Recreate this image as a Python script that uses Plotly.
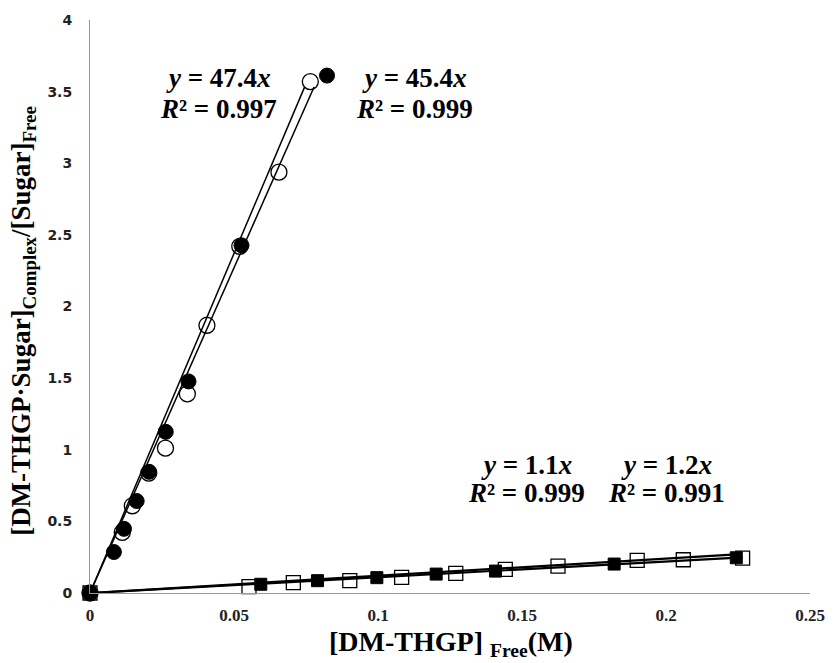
import plotly.graph_objects as go

# ---- data ----
open_circle_x = [0.0, 0.0112, 0.0147, 0.0204, 0.0262, 0.0338, 0.0406, 0.0520, 0.0656, 0.0765]
open_circle_y = [0.0, 0.423, 0.609, 0.837, 1.011, 1.390, 1.869, 2.420, 2.938, 3.570]
filled_circle_x = [0.0, 0.0083, 0.0118, 0.0162, 0.0205, 0.0263, 0.0342, 0.0526, 0.0823]
filled_circle_y = [0.0, 0.286, 0.448, 0.642, 0.846, 1.125, 1.477, 2.427, 3.612]
open_square_x = [0.0, 0.0552, 0.0706, 0.0902, 0.1082, 0.1270, 0.1442, 0.1625, 0.1900, 0.2060, 0.2266]
open_square_y = [0.0, 0.044, 0.072, 0.086, 0.109, 0.137, 0.165, 0.188, 0.228, 0.232, 0.244]
filled_square_x = [0.0, 0.0593, 0.0790, 0.0996, 0.1202, 0.1408, 0.1820, 0.2244]
filled_square_y = [0.0, 0.061, 0.086, 0.107, 0.132, 0.153, 0.202, 0.246]

fit_slopes = [47.4, 45.4, 1.1, 1.2]
fit_r2 = ["0.997", "0.999", "0.999", "0.991"]
fit_x_end = [0.0745, 0.0778, 0.2266, 0.2244]

x_ticks = [0, 0.05, 0.1, 0.15, 0.2, 0.25]
x_tick_labels = ["0", "0.05", "0.1", "0.15", "0.2", "0.25"]
y_ticks = [0, 0.5, 1, 1.5, 2, 2.5, 3, 3.5, 4]
y_tick_labels = ["0", "0.5", "1", "1.5", "2", "2.5", "3", "3.5", "4"]

# label anchor positions (data coords)
label_x = [0.0446, 0.1126, 0.1514, 0.2002]
label_y_eq = [3.598, 3.598, 0.893, 0.893]
label_y_r2 = [3.382, 3.382, 0.697, 0.697]

SERIF = "Liberation Serif, Times New Roman, serif"

fig = go.Figure()

# markers
fig.add_trace(go.Scatter(x=open_circle_x, y=open_circle_y, mode="markers",
                         marker=dict(symbol="circle", size=16, color="white",
                                     line=dict(color="black", width=1.3)),
                         cliponaxis=False, showlegend=False))
fig.add_trace(go.Scatter(x=open_square_x, y=open_square_y, mode="markers",
                         marker=dict(symbol="square", size=14, color="white",
                                     line=dict(color="black", width=1.3)),
                         cliponaxis=False, showlegend=False))
fig.add_trace(go.Scatter(x=filled_circle_x, y=filled_circle_y, mode="markers",
                         marker=dict(symbol="circle", size=15, color="black",
                                     line=dict(color="black", width=1)),
                         cliponaxis=False, showlegend=False))
fig.add_trace(go.Scatter(x=filled_square_x, y=filled_square_y, mode="markers",
                         marker=dict(symbol="square", size=12, color="black",
                                     line=dict(color="black", width=1)),
                         cliponaxis=False, showlegend=False))

# trend lines
line_widths = [1.5, 1.5, 2.2, 2.2]
for s, xe, lw in zip(fit_slopes, fit_x_end, line_widths):
    fig.add_trace(go.Scatter(x=[0, xe], y=[0, s * xe], mode="lines",
                             line=dict(color="black", width=lw),
                             cliponaxis=False, showlegend=False, hoverinfo="skip"))

# equation labels
for s, r2, lx, ye, yr in zip(fit_slopes, fit_r2, label_x, label_y_eq, label_y_r2):
    fig.add_annotation(x=lx, y=ye, xref="x", yref="y", showarrow=False,
                       text=f"<i>y</i> = {s}<i>x</i>",
                       font=dict(family=SERIF, size=27, color="black", weight="bold"))
    fig.add_annotation(x=lx, y=yr, xref="x", yref="y", showarrow=False,
                       text=f"<i>R</i>² = {r2}",
                       font=dict(family=SERIF, size=27, color="black", weight="bold"))

# axis titles as annotations
fig.add_annotation(x=0.501, y=-0.088, xref="paper", yref="paper", showarrow=False,
                   xanchor="center", yanchor="middle",
                   text="[DM-THGP] <sub>Free</sub>(M)",
                   font=dict(family=SERIF, size=28, color="black", weight="bold"))
fig.add_annotation(x=-0.093, y=0.475, xref="paper", yref="paper", showarrow=False,
                   xanchor="center", yanchor="middle", textangle=-90,
                   text="[DM-THGP·Sugar]<sub>Complex</sub>/[Sugar]<sub>Free</sub>",
                   font=dict(family=SERIF, size=27, color="black", weight="bold"))

fig.update_xaxes(range=[0, 0.25], tickvals=x_ticks, ticktext=x_tick_labels,
                 showgrid=False, zeroline=False, showline=True, linecolor="#999999",
                 linewidth=1, ticks="", ticklabelstandoff=7,
                 tickfont=dict(family=SERIF, size=17, color="#222222", weight="bold"))
fig.update_yaxes(range=[0, 4], tickvals=y_ticks, ticktext=y_tick_labels,
                 showgrid=False, zeroline=False, showline=True, linecolor="#999999",
                 linewidth=1, ticks="", ticklabelstandoff=14,
                 tickfont=dict(family="DejaVu Sans", size=14, color="#222222", weight="bold"))

fig.update_layout(width=837, height=663, plot_bgcolor="white", paper_bgcolor="white",
                  margin=dict(l=90, r=19, t=20, b=70), showlegend=False)

fig.write_html("out.html", config={"displayModeBar": False},
               post_script="document.body.style.margin='0px';document.body.style.overflow='hidden';")
